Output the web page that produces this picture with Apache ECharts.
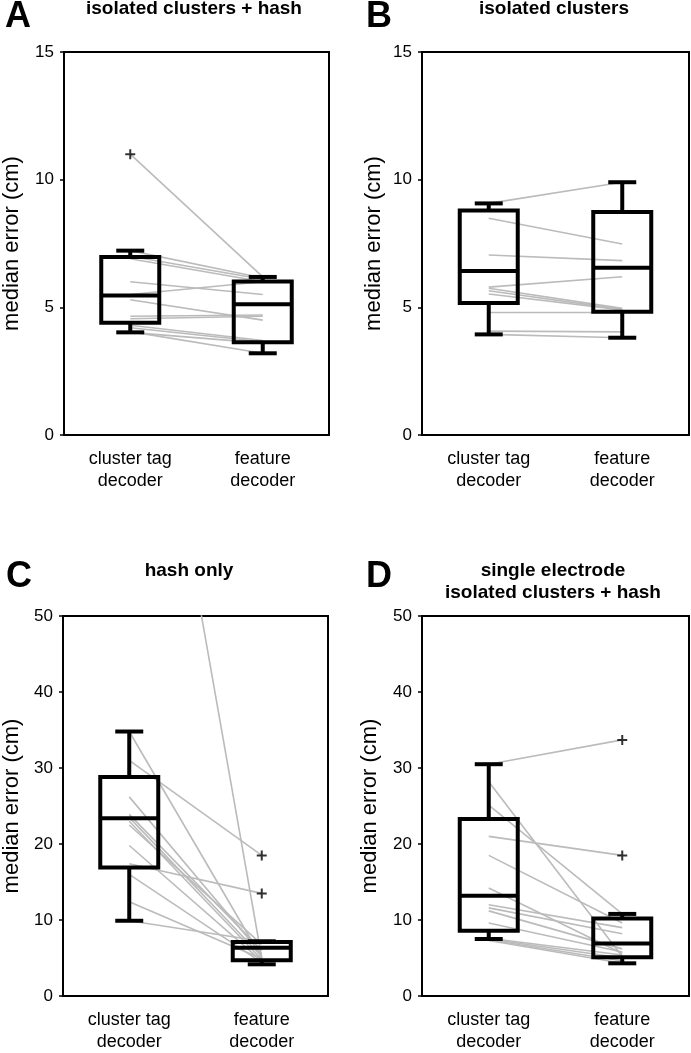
<!DOCTYPE html>
<html>
<head>
<meta charset="utf-8">
<script src="https://cdn.jsdelivr.net/npm/echarts@6.0.0/dist/echarts.min.js"></script>
<style>
html,body{margin:0;padding:0;background:#fff;}
#chart{width:691px;height:1053px;}
</style>
</head>
<body>
<div id="chart"></div>
<script>
// ---------- data ----------
const categories = ['cluster tag\ndecoder', 'feature\ndecoder'];
const yNameText = 'median error (cm)';

// box stats: [min, Q1, median, Q3, max]
const boxA_cluster = [4.02, 4.40, 5.46, 6.97, 7.22];
const boxA_feature = [3.20, 3.63, 5.12, 6.01, 6.19];
const outliersA = [[0, 11.0]];
const pairsA_cluster = [11.0, 7.22, 7.0, 6.9, 6.0, 5.5, 5.3, 4.65, 4.55, 4.3, 4.2, 4.05, 4.02];
const pairsA_feature = [6.19, 6.15, 6.1, 6.0, 5.5, 6.0, 4.5, 4.7, 4.65, 3.7, 3.65, 3.2, 3.6];

const boxB_cluster = [3.94, 5.17, 6.42, 8.79, 9.07];
const boxB_feature = [3.81, 4.83, 6.55, 8.73, 9.90];
const outliersB = [];
const pairsB_cluster = [9.07, 8.49, 7.05, 5.79, 5.75, 5.65, 5.52, 4.8, 4.07, 3.94];
const pairsB_feature = [9.90, 7.48, 6.83, 6.20, 4.96, 4.92, 4.90, 4.8, 4.04, 3.81];

const boxC_cluster = [9.9, 16.9, 23.4, 28.8, 34.8];
const boxC_feature = [4.17, 4.70, 6.34, 7.09, 7.2];
const outliersC = [[1, 18.5], [1, 13.5]];
const pairsC_cluster = [104, 34.8, 31.0, 26.2, 23.9, 23.5, 23.0, 22.5, 19.8, 17.4, 16.0, 12.4, 9.9];
const pairsC_feature = [5.0, 5.0, 18.5, 5.5, 6.0, 5.2, 4.8, 6.8, 4.6, 13.5, 4.4, 4.9, 7.2];

const boxD_cluster = [7.5, 8.6, 13.2, 23.3, 30.5];
const boxD_feature = [4.3, 5.1, 6.9, 10.2, 10.8];
const outliersD = [[1, 33.7], [1, 18.5]];
const pairsD_cluster = [30.5, 28.2, 25.1, 21.0, 18.5, 14.2, 12.0, 11.6, 11.2, 9.6, 7.6, 7.5, 7.4, 7.3];
const pairsD_feature = [33.7, 5.2, 10.8, 18.5, 9.6, 5.6, 9.0, 8.2, 6.2, 5.8, 5.4, 5.0, 4.6, 4.3];

const titlesText = ['isolated clusters + hash', 'isolated clusters', 'hash only', 'single electrode\nisolated clusters + hash'];
const lettersText = ['A', 'B', 'C', 'D'];

// ---------- layout ----------
const FONT = "'Liberation Sans', Arial, Helvetica, sans-serif";
const panels = [
  {grid:{left:64, top:52, width:265, height:383}, max:15, interval:5, nameGap:41,
   box:[boxA_cluster, boxA_feature], out:outliersA, pc:pairsA_cluster, pf:pairsA_feature,
   title:{x:194, y:-2}, letter:{x:18, y:17}},
  {grid:{left:422, top:52, width:267, height:383}, max:15, interval:5, nameGap:37,
   box:[boxB_cluster, boxB_feature], out:outliersB, pc:pairsB_cluster, pf:pairsB_feature,
   title:{x:554, y:-2}, letter:{x:379, y:17}},
  {grid:{left:60, top:616, width:268, height:383}, max:50, interval:10, nameGap:40,
   box:[boxC_cluster, boxC_feature], out:outliersC, pc:pairsC_cluster, pf:pairsC_feature,
   title:{x:189, y:560}, letter:{x:19, y:577}},
  {grid:{left:422, top:616, width:267, height:383}, max:50, interval:10, nameGap:41,
   box:[boxD_cluster, boxD_feature], out:outliersD, pc:pairsD_cluster, pf:pairsD_feature,
   title:{x:553, y:560}, letter:{x:379, y:577}}
];

const grids = [], xAxes = [], yAxes = [], series = [], graphics = [];

function boxRender(params, api) {
  const c = api.value(0);
  const pMin = api.coord([c, api.value(1)]);
  const pQ1 = api.coord([c, api.value(2)]);
  const pMed = api.coord([c, api.value(3)]);
  const pQ3 = api.coord([c, api.value(4)]);
  const pMax = api.coord([c, api.value(5)]);
  const x = pMed[0], hw = 29, cw = 14;
  const st = {stroke:'#000', lineWidth:4, fill:null};
  const ln = (x1,y1,x2,y2) => ({type:'line', shape:{x1,y1,x2,y2}, style:st});
  return {type:'group', children:[
    ln(x, pMax[1], x, pQ3[1]),
    ln(x, pMin[1], x, pQ1[1]),
    ln(x-cw, pMax[1], x+cw, pMax[1]),
    ln(x-cw, pMin[1], x+cw, pMin[1]),
    {type:'rect', shape:{x:x-hw, y:pQ3[1], width:2*hw, height:pQ1[1]-pQ3[1]}, style:{stroke:'#000', lineWidth:4, fill:'rgba(0,0,0,0)'}},
    ln(x-hw, pMed[1], x+hw, pMed[1])
  ]};
}

panels.forEach((p, i) => {
  grids.push(Object.assign({show:true, borderColor:'#000', borderWidth:2, backgroundColor:'transparent', containLabel:false}, p.grid));
  xAxes.push({
    type:'category', gridIndex:i, data:categories, boundaryGap:true,
    axisLine:{show:true, lineStyle:{color:'#000', width:2}},
    axisTick:{show:false},
    axisLabel:{color:'#000', fontSize:18, lineHeight:22, margin:13, fontFamily:FONT, interval:0},
    splitLine:{show:false}
  });
  yAxes.push({
    type:'value', gridIndex:i, min:0, max:p.max, interval:p.interval,
    name:yNameText, nameLocation:'middle', nameGap:p.nameGap, nameRotate:90,
    nameTextStyle:{color:'#000', fontSize:22, fontFamily:FONT},
    axisLine:{show:true, lineStyle:{color:'#000', width:2}},
    axisTick:{show:true, length:4, lineStyle:{color:'#000', width:1.5}},
    axisLabel:{color:'#000', fontSize:17, margin:10, fontFamily:FONT},
    splitLine:{show:false}
  });
  for (let k = 0; k < p.pc.length; k++) {
    series.push({
      type:'line', xAxisIndex:i, yAxisIndex:i, data:[p.pc[k], p.pf[k]],
      symbol:'none', silent:true, clip:true, z:1,
      lineStyle:{color:'#bbbbbb', width:1.6}
    });
  }
  series.push({
    type:'custom', xAxisIndex:i, yAxisIndex:i, z:3, silent:true,
    renderItem: boxRender, clip:false,
    encode:{x:0, y:[1,2,3,4,5]},
    data: p.box.map((b, j) => [j].concat(b))
  });
  if (p.out.length) {
    series.push({
      type:'scatter', xAxisIndex:i, yAxisIndex:i, z:4, silent:true,
      symbol:'path://M4,0H6V10H4Z M0,4H10V6H0Z', symbolSize:10,
      itemStyle:{color:'#000'},
      data:p.out
    });
  }
  graphics.push({
    type:'text', x:p.title.x, y:p.title.y,
    style:{text:titlesText[i], fill:'#000', font:'bold 19px ' + FONT,
           align:'center', textAlign:'center', verticalAlign:'top', textVerticalAlign:'top', lineHeight:22}
  });
  graphics.push({
    type:'text', x:p.letter.x, y:p.letter.y,
    style:{text:lettersText[i], fill:'#000', font:'bold 36px ' + FONT,
           align:'center', textAlign:'center', verticalAlign:'middle', textVerticalAlign:'middle'}
  });
});

const chart = echarts.init(document.getElementById('chart'), null, {renderer:'canvas'});
chart.setOption({
  animation:false,
  backgroundColor:'#fff',
  grid:grids, xAxis:xAxes, yAxis:yAxes, series:series,
  graphic:{elements:graphics}
});
</script>
</body>
</html>
